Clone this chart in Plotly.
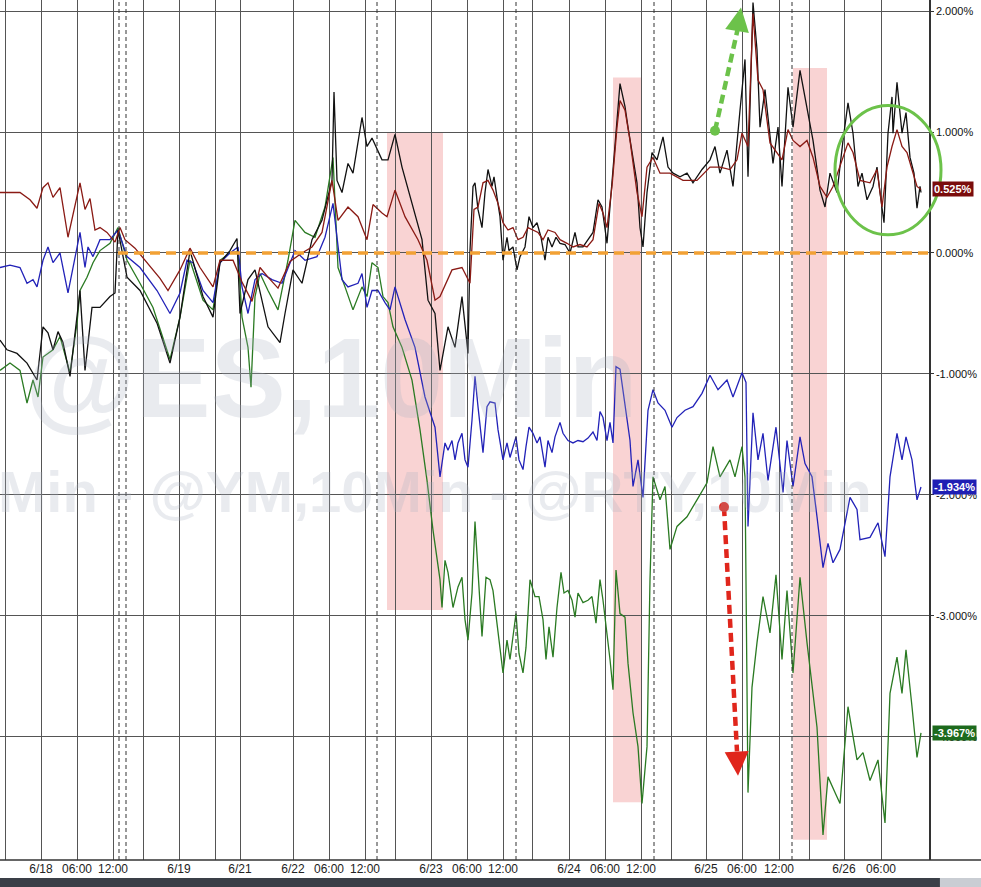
import plotly.graph_objects as go

# x = 10-minute bar number on the session axis, y = % change
es_x = [0, 7, 17, 27, 37, 43, 48, 53, 58, 63, 70, 80, 85, 92, 100, 110, 115, 118, 127, 140,
        157, 170, 180, 190, 203, 213, 220, 230, 237, 240, 248, 255, 268, 280, 285, 293, 302, 312, 322, 332,
        334, 337, 342, 348, 353, 362, 367, 372, 382, 388, 395, 402, 412, 422, 428, 435, 440, 448, 455, 462,
        468, 470, 473, 475, 478, 482, 485, 488, 492, 494, 497, 500, 503, 507, 509, 513, 517, 520, 525, 529,
        533, 537, 541, 545, 548, 552, 556, 560, 565, 570, 575, 578, 583, 588, 593, 598, 602, 607, 612, 615,
        620, 625, 628, 637, 640, 643, 647, 652, 657, 663, 668, 673, 680, 687, 693, 702, 710, 715, 720, 727,
        733, 740, 745, 748, 753, 757, 760, 765, 770, 773, 778, 782, 788, 793, 800, 807, 813, 820, 825, 830,
        837, 843, 848, 853, 858, 862, 867, 873, 877, 880, 884, 888, 892, 893, 897, 902, 906, 910, 914, 917,
        920, 921]
es_y = [-0.72, -0.80, -0.83, -0.91, -1.05, -0.61, -0.66, -0.80, -0.65, -0.74, -1.02, -0.31, -0.97, -0.45, -0.45, -0.36, -0.33, 0.19, -0.20, -0.31,
        -0.58, -0.91, -0.53, 0.02, -0.36, -0.53, -0.08, 0.02, 0.12, -0.50, -0.22, -0.14, -0.61, -0.74, -0.50, -0.14, -0.25, 0.11, 0.27, 0.60,
        1.33, 0.60, 0.50, 0.74, 0.66, 1.12, 0.88, 0.95, 0.77, 0.77, 0.98, 0.71, 0.41, 0.11, -0.39, -0.50, -0.97, -0.61, -0.78, -0.36,
        -0.83, 0.02, 0.55, 0.58, 0.36, 0.21, 0.50, 0.69, 0.55, 0.63, 0.46, 0.30, -0.06, 0.13, 0.02, 0.05, -0.14, -0.03, 0.05, 0.30,
        0.21, 0.25, 0.13, -0.06, 0.13, 0.05, 0.13, 0.08, 0.07, 0.00, 0.17, 0.05, 0.05, 0.11, 0.17, 0.44, 0.38, 0.08, 0.60, 0.85,
        1.40, 1.21, 1.04, 0.58, 0.21, 0.05, 0.50, 0.83, 0.77, 0.96, 0.71, 0.66, 0.63, 0.66, 0.58, 0.69, 0.77, 0.88, 0.66, 0.85,
        0.55, 1.18, 1.60, 0.63, 2.07, 1.68, 1.04, 1.35, 0.99, 0.74, 1.04, 0.55, 1.37, 1.04, 1.51, 1.18, 0.93, 0.52, 0.38, 0.66,
        0.50, 0.93, 1.24, 0.99, 0.55, 0.66, 0.44, 0.55, 0.71, 0.50, 0.25, 0.99, 1.29, 0.99, 1.41, 0.99, 1.16, 0.79, 0.66, 0.37,
        0.55, 0.50]

ym_x = [0, 20, 30, 37, 43, 48, 53, 60, 68, 80, 85, 90, 95, 100, 107, 115, 120, 125, 135, 147,
        160, 168, 180, 190, 200, 213, 220, 233, 242, 252, 260, 268, 278, 290, 302, 312, 322, 332, 338, 348,
        358, 367, 373, 382, 387, 395, 405, 418, 427, 435, 440, 452, 462, 470, 474, 478, 483, 488, 493, 498,
        503, 508, 513, 518, 523, 528, 533, 538, 543, 548, 555, 560, 567, 573, 580, 587, 593, 599, 603, 607,
        612, 617, 620, 625, 630, 637, 642, 647, 653, 660, 670, 683, 697, 710, 720, 730, 737, 742, 748, 753,
        758, 763, 770, 777, 782, 788, 793, 800, 807, 813, 820, 827, 833, 843, 848, 853, 860, 870, 877, 882,
        887, 892, 897, 902, 907, 912, 917, 921]
ym_y = [0.50, 0.50, 0.44, 0.37, 0.54, 0.58, 0.46, 0.54, 0.13, 0.58, 0.36, 0.45, 0.19, 0.21, 0.17, 0.09, 0.21, 0.11, 0.04, -0.08,
        -0.21, -0.31, -0.14, 0.04, -0.12, -0.28, -0.06, -0.06, -0.24, -0.40, -0.12, -0.20, -0.29, -0.07, 0.00, 0.05, 0.17, 0.60, 0.27, 0.38,
        0.30, 0.11, 0.40, 0.33, 0.30, 0.52, 0.30, 0.11, -0.06, -0.39, -0.36, -0.14, -0.12, -0.25, 0.36, 0.38, 0.58, 0.60, 0.52, 0.41,
        0.25, 0.19, 0.21, 0.11, 0.13, 0.21, 0.19, 0.17, 0.11, 0.19, 0.17, 0.11, 0.08, 0.05, 0.07, 0.05, 0.11, 0.41, 0.33, 0.21,
        0.55, 1.04, 1.26, 1.18, 0.93, 0.50, 0.30, 0.71, 0.79, 0.66, 0.66, 0.60, 0.60, 0.71, 0.71, 0.69, 0.77, 0.99, 0.88, 1.98,
        1.43, 1.35, 0.91, 0.83, 0.77, 1.02, 0.93, 0.88, 0.93, 0.79, 0.55, 0.46, 0.55, 0.79, 0.91, 0.83, 0.60, 0.58, 0.69, 0.38,
        0.71, 0.88, 1.02, 0.88, 0.83, 0.69, 0.55, 0.525]

nq_x = [0, 10, 20, 27, 33, 37, 43, 48, 53, 60, 68, 80, 85, 88, 93, 100, 110, 118, 127, 140,
        157, 170, 180, 187, 193, 203, 213, 220, 230, 238, 242, 248, 255, 262, 272, 282, 295, 305, 317, 325,
        333, 337, 342, 348, 358, 362, 367, 372, 378, 385, 390, 395, 405, 415, 425, 435, 440, 445, 448, 452,
        455, 458, 462, 465, 468, 472, 475, 478, 483, 487, 490, 495, 498, 503, 507, 510, 513, 516, 519, 523,
        526, 529, 533, 537, 540, 545, 548, 552, 555, 560, 563, 568, 573, 578, 583, 588, 593, 597, 600, 603,
        607, 610, 613, 616, 620, 623, 630, 633, 638, 643, 648, 653, 658, 665, 672, 677, 685, 693, 702, 710,
        718, 727, 733, 742, 746, 748, 753, 758, 763, 768, 776, 783, 787, 793, 800, 805, 812, 817, 823, 828,
        833, 840, 850, 857, 860, 870, 878, 885, 890, 897, 902, 906, 912, 917, 921]
nq_y = [-0.12, -0.10, -0.12, -0.25, -0.22, -0.28, -0.06, 0.05, -0.08, 0.00, -0.33, 0.17, -0.12, 0.05, -0.03, 0.11, 0.11, 0.19, -0.03, -0.12,
        -0.31, -0.50, -0.33, -0.06, -0.08, -0.31, -0.41, -0.08, 0.00, 0.05, -0.28, -0.50, -0.22, -0.17, -0.22, -0.25, 0.02, -0.06, -0.03, 0.13,
        0.41, 0.13, -0.22, -0.28, -0.25, -0.17, -0.45, -0.31, -0.31, -0.41, -0.47, -0.28, -0.55, -0.78, -1.19, -1.44, -1.85, -1.57, -1.63, -1.55,
        -1.71, -1.57, -1.49, -1.71, -1.77, -1.38, -1.02, -1.27, -1.65, -1.27, -1.23, -1.24, -1.46, -1.71, -1.57, -1.69, -1.60, -1.52, -1.71, -1.79,
        -1.60, -1.44, -1.49, -1.57, -1.52, -1.77, -1.55, -1.65, -1.52, -1.40, -1.49, -1.55, -1.57, -1.55, -1.56, -1.53, -1.48, -1.55, -1.31, -1.36,
        -1.55, -1.40, -1.57, -0.94, -0.96, -1.13, -1.55, -1.93, -1.71, -2.02, -1.30, -1.13, -1.24, -1.30, -1.44, -1.36, -1.30, -1.27, -1.16, -1.01,
        -1.13, -1.05, -1.19, -0.99, -1.07, -2.26, -1.32, -1.71, -1.49, -1.88, -1.44, -1.98, -1.55, -1.93, -1.52, -1.74, -1.85, -2.18, -2.60, -2.40,
        -2.56, -2.45, -2.02, -2.12, -2.37, -2.35, -2.23, -2.51, -1.85, -1.49, -1.71, -1.52, -1.71, -2.04, -1.934]

rty_x = [0, 10, 20, 27, 33, 38, 43, 53, 60, 70, 77, 80, 87, 93, 100, 110, 118, 127, 140, 153,
         170, 180, 190, 203, 213, 220, 230, 238, 242, 248, 251, 255, 260, 268, 278, 288, 295, 305, 315, 325,
         333, 335, 338, 345, 353, 362, 367, 372, 378, 383, 388, 393, 402, 412, 420, 427, 433, 440, 442, 445,
         448, 453, 458, 462, 465, 468, 472, 475, 478, 482, 486, 490, 493, 498, 503, 507, 510, 513, 516, 519,
         523, 526, 530, 535, 539, 543, 546, 549, 553, 557, 561, 564, 568, 572, 575, 578, 583, 588, 592, 596,
         600, 603, 607, 610, 613, 616, 620, 625, 628, 633, 638, 642, 647, 650, 653, 660, 665, 670, 677, 687,
         697, 707, 713, 720, 730, 735, 742, 745, 748, 752, 757, 763, 770, 776, 782, 787, 793, 800, 807, 817,
         823, 828, 835, 840, 848, 857, 863, 870, 878, 885, 890, 897, 902, 906, 912, 917, 921]
rty_y = [-0.97, -0.91, -0.97, -1.24, -1.05, -1.19, -0.86, -0.80, -0.69, -0.99, -0.58, -0.31, -0.20, -0.08, 0.02, 0.08, 0.21, -0.06, -0.25, -0.45,
         -0.88, -0.53, -0.06, -0.39, -0.47, -0.06, 0.00, 0.01, -0.53, -0.78, -1.11, -0.36, -0.17, -0.31, -0.47, -0.06, 0.27, 0.17, 0.13, 0.38,
         0.79, 0.38, -0.12, -0.28, -0.47, -0.28, -0.36, -0.08, -0.12, -0.36, -0.41, -0.61, -0.78, -1.05, -1.46, -1.88, -2.29, -2.70, -2.93, -2.54,
         -2.64, -2.93, -2.76, -2.68, -3.03, -3.20, -2.81, -2.22, -2.64, -3.17, -2.68, -2.70, -2.79, -3.12, -3.47, -3.20, -3.36, -3.17, -2.98, -3.31,
         -3.47, -3.26, -2.70, -2.84, -2.84, -3.03, -3.36, -3.09, -3.34, -2.93, -2.64, -2.81, -2.79, -2.87, -3.01, -2.81, -2.89, -2.87, -2.84, -3.06,
         -2.70, -2.87, -3.14, -3.36, -3.61, -2.62, -2.98, -3.01, -3.39, -3.80, -4.08, -4.55, -4.08, -2.70, -1.85, -2.04, -1.93, -2.45, -2.26, -2.18,
         -2.04, -1.90, -1.60, -1.85, -1.71, -1.85, -1.60, -1.85, -4.46, -3.59, -3.22, -2.84, -3.14, -2.66, -3.36, -2.79, -3.47, -2.68, -3.22, -3.92,
         -4.81, -4.33, -4.46, -4.55, -3.75, -4.19, -4.13, -4.36, -4.19, -4.71, -3.64, -3.34, -3.64, -3.28, -3.75, -4.17, -3.967]

# axis labels
grid_bars = [5, 41, 77, 113, 143, 179, 215, 240, 293, 329, 365, 395, 431, 467, 503, 532, 569, 605, 641,
             671, 706, 742, 779, 809, 844, 881]
grid_text = ["", "6/18", "06:00", "12:00", "", "6/19", "", "6/21", "6/22", "06:00", "12:00", "", "6/23",
             "06:00", "12:00", "", "6/24", "06:00", "12:00", "", "6/25", "06:00", "12:00", "", "6/26", "06:00"]
session_breaks = [119, 126, 377, 516, 654, 792]
pct_ticks = [2, 1, 0, -1, -2, -3, -4]
pct_text = ["2.000%", "1.000%", "0.000%", "-1.000%", "-2.000%", "-3.000%", "-4.000%"]

# highlighted sell-off windows (bar from, bar to, % top, % bottom)
zones = [(387, 443, 1.00, -2.95), (613, 642, 1.45, -4.54), (793, 827, 1.53, -4.85)]

last_vals = [(ym_y[-1], "0.525%", "#7a0c0c"), (nq_y[-1], "-1.934%", "#1f1fb4"), (rty_y[-1], "-3.967%", "#1d6a1d")]

FONT = "Liberation Sans Narrow, Arial Narrow, Liberation Sans, Arial, sans-serif"

fig = go.Figure()
fig.add_trace(go.Scatter(x=rty_x, y=rty_y, mode="lines", line=dict(color="#2a7a22", width=1.3)))
fig.add_trace(go.Scatter(x=nq_x, y=nq_y, mode="lines", line=dict(color="#2222b8", width=1.3)))
fig.add_trace(go.Scatter(x=es_x, y=es_y, mode="lines", line=dict(color="#111111", width=1.3)))
fig.add_trace(go.Scatter(x=ym_x, y=ym_y, mode="lines", line=dict(color="#8a1a14", width=1.3)))

for x0, x1, top, bot in zones:
    fig.add_shape(type="rect", x0=x0, x1=x1, y0=bot, y1=top, layer="below",
                  fillcolor="rgba(240,150,150,0.42)", line_width=0)

for b in session_breaks:
    fig.add_shape(type="line", x0=b, x1=b, yref="paper", y0=0, y1=1,
                  line=dict(color="#333333", width=1, dash="4px,3px"))

# zero line
fig.add_shape(type="line", x0=118, x1=929, y0=0, y1=0,
              line=dict(color="#f2a134", width=3.5, dash="10px,6px"))

# circle and arrows
fig.add_shape(type="circle", xref="paper", x0=835 / 929, x1=941 / 929, y0=0.15, y1=1.22,
              line=dict(color="#6cc24a", width=3))
fig.add_shape(type="line", x0=715, y0=1.01, x1=739, y1=1.9,
              line=dict(color="#6cc24a", width=4.5, dash="9px,5px"))
fig.add_shape(type="circle", xsizemode="pixel", ysizemode="pixel", xanchor=715, yanchor=1.01,
              x0=-5, x1=5, y0=-5, y1=5, fillcolor="#6cc24a", line_width=0)
fig.add_annotation(x=741, y=2.03, ax=-3, ay=18, text="", showarrow=True, arrowhead=2,
                   arrowsize=1.2, arrowwidth=4, arrowcolor="#6cc24a")
fig.add_shape(type="line", x0=724, y0=-2.10, x1=737, y1=-4.12,
              line=dict(color="#e0261c", width=4.5, dash="9px,5px"))
fig.add_shape(type="circle", xsizemode="pixel", ysizemode="pixel", xanchor=724, yanchor=-2.10,
              x0=-5, x1=5, y0=-5, y1=5, fillcolor="#e0261c", line_width=0)
fig.add_annotation(x=738, y=-4.32, ax=-1, ay=-18, text="", showarrow=True, arrowhead=2,
                   arrowsize=1.2, arrowwidth=4, arrowcolor="#e0261c")

# watermark
wm = "rgba(170,178,195,0.26)"
fig.add_annotation(xref="paper", yref="paper", x=0.357, y=0.56, text="@ES,10Min", showarrow=False,
                   font=dict(family="Liberation Sans", size=113, color=wm, weight="bold"))
fig.add_annotation(xref="paper", yref="paper", x=-0.004, y=0.428, xanchor="left",
                   text="Min - @YM,10Min - @RTY,10Min", showarrow=False,
                   font=dict(family="Liberation Sans", size=58, color=wm, weight="bold"))

# last value tags
for v, txt, col in last_vals:
    fig.add_annotation(xref="paper", x=1, xanchor="left", xshift=3, y=v, text=txt, showarrow=False,
                       bgcolor=col, borderpad=1,
                       font=dict(family=FONT, size=11, color="white", weight="bold"))

# axis line across the bottom and the screenshot strip
fig.add_shape(type="line", xref="paper", yref="paper", x0=0, x1=1.06, y0=0, y1=0,
              line=dict(color="#333333", width=1.5))
fig.add_shape(type="rect", xref="paper", yref="paper", x0=0, x1=1.0118, y0=-0.0314, y1=-0.0209,
              fillcolor="#3a3f47", line_width=0)
fig.add_shape(type="rect", xref="paper", yref="paper", x0=1.0118, x1=1.06, y0=-0.0314, y1=-0.0209,
              fillcolor="#c9cdd3", line_width=0)

fig.update_layout(
    width=981, height=887,
    margin=dict(l=0, r=52, t=0, b=27),
    paper_bgcolor="white", plot_bgcolor="white",
    showlegend=False,
    xaxis=dict(range=[0, 929], tickvals=grid_bars, ticktext=grid_text, showgrid=True,
               gridcolor="#555555", gridwidth=1, zeroline=False, showline=False, ticks="",
               tickfont=dict(family=FONT, size=12, color="#222222")),
    yaxis=dict(range=[-5.017, 2.091], side="right", tickvals=pct_ticks, ticktext=pct_text,
               showgrid=True, gridcolor="#555555", gridwidth=1, zeroline=False,
               showline=True, linecolor="#333333", linewidth=1.5, ticks="outside", ticklen=3,
               tickcolor="#333333", ticklabelstandoff=0,
               tickfont=dict(family=FONT, size=11, color="#111111")),
)

fig.write_html("out.html", config={"displayModeBar": False},
               post_script="document.body.style.margin='0';")
